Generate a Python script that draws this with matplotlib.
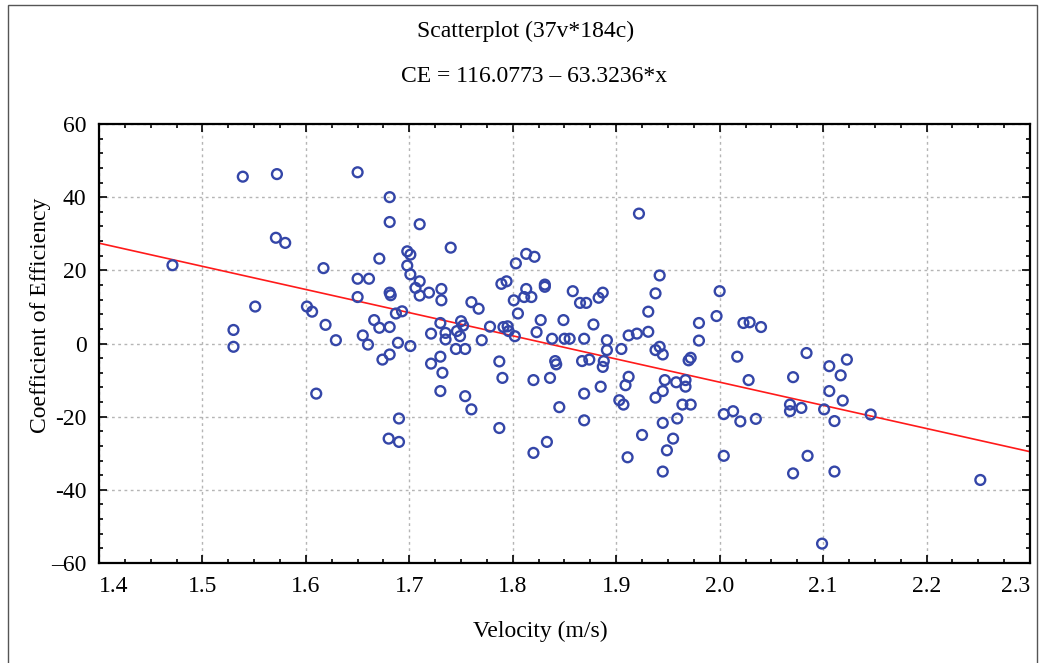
import matplotlib.pyplot as plt
from matplotlib.patches import Rectangle
from matplotlib.ticker import FixedLocator, MultipleLocator, FixedFormatter

# Velocity (m/s) of each case
velocity = [
    1.539, 1.572, 1.571, 1.580, 1.471, 1.617, 1.551, 1.601, 1.606, 1.619, 1.629, 1.530, 1.530,
    1.650, 1.681, 1.681, 1.710, 1.740, 1.671, 1.698, 1.701, 1.698, 1.701, 1.650, 1.661, 1.710,
    1.706, 1.710, 1.719, 1.731, 1.731, 1.650, 1.681, 1.682, 1.687, 1.693, 1.666, 1.671, 1.681,
    1.655, 1.660, 1.689, 1.701, 1.760, 1.767, 1.730, 1.721, 1.735, 1.735, 1.750, 1.746, 1.752,
    1.749, 1.770, 1.745, 1.754, 1.778, 1.791, 1.795, 1.796, 1.802, 1.789, 1.794, 1.803, 1.813,
    1.821, 1.801, 1.805, 1.813, 1.811, 1.818, 1.831, 1.831, 1.827, 1.823, 1.849, 1.838, 1.850,
    1.855, 1.858,
    1.922, 1.942, 1.938, 2.000, 1.931, 1.997, 1.865, 1.871, 1.883, 1.887, 1.878, 1.980, 2.023,
    2.029, 2.040, 1.869, 1.891, 1.912, 1.920, 1.931, 1.980, 1.905, 1.942,
    1.891, 1.945, 1.938, 1.972, 1.970, 2.017, 2.084, 1.867, 1.874, 1.888, 1.887, 1.912, 1.909,
    1.885, 1.869, 1.903, 1.907, 1.947, 1.945, 1.938, 1.958, 1.967, 1.967, 1.964, 1.972, 1.959,
    1.945, 1.869, 1.925, 1.955, 1.949, 1.911, 1.945, 2.028, 2.071, 2.004, 2.013, 2.020, 2.035,
    2.068, 2.068, 2.079, 2.004, 2.071, 2.085,
    2.106, 2.123, 2.117, 2.106, 2.119, 2.101, 2.111, 2.146, 2.111, 2.252, 2.099,
    1.610,
    1.674, 1.681, 1.721, 1.730, 1.732, 1.730, 1.754, 1.760, 1.787, 1.790, 1.787, 1.820, 1.836,
    1.841, 1.842, 1.845, 1.833, 1.820, 1.690, 1.680, 1.690,
]

# Coefficient of Efficiency of each case
efficiency = [
    45.6, 46.3, 28.9, 27.5, 21.4, 20.6, 10.1, 10.1, 8.7, 5.1, 0.9, 3.7, -0.9,
    46.8, 40.0, 33.2, 32.6, 26.2, 23.2, 25.2, 24.3, 21.3, 18.9, 17.7, 17.7, 17.0,
    15.2, 13.1, 13.9, 14.9, 11.8, 12.7, 13.9, 13.2, 8.2, 8.8, 6.4, 4.3, 4.5,
    2.2, -0.3, 0.2, -0.7, 11.3, 9.5, 5.6, 2.7, 2.9, 1.1, 6.1, 3.4, 4.9,
    2.0, 0.9, -1.5, -1.5, 4.6, 4.5, 4.7, 3.4, 2.0, 16.3, 17.0, 21.9, 24.5,
    23.7, 11.8, 8.2, 14.9, 12.7, 12.7, 16.1, 15.5, 6.4, 3.1, 6.4, 1.3, 1.3,
    1.3, 14.3,
    35.5, 18.6, 13.7, 14.3, 8.7, 7.5, 11.1, 11.1, 12.5, 13.9, 5.2, 5.6, 5.6,
    5.8, 4.5, 1.3, 0.9, 2.2, 2.7, 3.2, 0.8, -1.5, -0.9,
    -1.8, -3.0, -1.8, -3.9, -4.6, -3.6, -2.6, -4.8, -4.4, -4.8, -6.4, -9.1, -11.4,
    -11.8, -13.7, -15.5, -16.7, -10.0, -13.0, -14.8, -10.6, -10.0, -11.8, -16.7, -16.7, -20.5,
    -21.7, -21.0, -25.0, -26.0, -29.2, -31.1, -35.0, -10.0, -9.2, -19.3, -18.5, -21.3, -20.6,
    -16.7, -18.5, -17.6, -30.7, -35.5, -30.7,
    -6.2, -4.4, -8.7, -13.0, -15.6, -18.0, -21.2, -19.4, -35.0, -37.3, -54.7,
    -13.7,
    -4.4, -3.0, -5.5, -3.6, -8.0, -13.0, -14.4, -18.0, -4.9, -9.4, -23.1, -10.0, -9.4,
    -4.8, -5.7, -17.4, -26.9, -29.9, -20.5, -26.0, -26.9,
]

# Regression line CE = a + b*x
intercept = 116.0773
slope = -63.3236

x_ticks = [1.4, 1.5, 1.6, 1.7, 1.8, 1.9, 2.0, 2.1, 2.2, 2.3]
x_labels = ['1.4', '1.5', '1.6', '1.7', '1.8', '1.9', '2.0', '2.1', '2.2', '2.3']
y_ticks = [-60, -40, -20, 0, 20, 40, 60]
y_labels = ['\u201360', '-40', '-20', '0', '20', '40', '60']

plt.rcParams['font.family'] = ['Liberation Serif', 'DejaVu Serif']

fig = plt.figure(figsize=(10.39, 6.63), dpi=100)
ax = fig.add_axes([0.0953, 0.1508, 0.8960, 0.6622])

# Regression line across the whole axis
x_min, x_max = x_ticks[0], x_ticks[-1]
ax.plot([x_min, x_max], [intercept + slope * x_min, intercept + slope * x_max],
        color='#ff1a1a', linewidth=1.2, zorder=2)

# Points as open circles
ax.scatter(velocity, efficiency, s=50, facecolors='none', edgecolors='#3446a8',
           linewidths=1.7, zorder=3)

ax.set_xlim(x_min, x_max)
ax.set_ylim(y_ticks[0], y_ticks[-1])

ax.xaxis.set_major_locator(FixedLocator(x_ticks))
ax.xaxis.set_major_formatter(FixedFormatter(x_labels))
ax.xaxis.set_minor_locator(MultipleLocator(0.025))
ax.yaxis.set_major_locator(FixedLocator(y_ticks))
ax.yaxis.set_major_formatter(FixedFormatter(y_labels))
ax.yaxis.set_minor_locator(MultipleLocator(4))

ax.tick_params(which='both', direction='in', top=True, right=True, width=1.2,
               labelsize=17, colors='black')
ax.tick_params(which='major', length=6, pad=9)
ax.tick_params(which='minor', length=3)

# first and last x labels sit inside the axis ends, as in the original export
xt = ax.get_xticklabels()
xt[0].set_horizontalalignment('left')
xt[-1].set_horizontalalignment('right')

# Dotted grid
ax.grid(True, which='major', linestyle=(0, (2, 2.5)), color='#b5b5b5', linewidth=1.0)
ax.set_axisbelow(True)

for sp in ax.spines.values():
    sp.set_linewidth(1.6)

ax.set_xlabel('Velocity (m/s)', fontsize=17)
ax.xaxis.set_label_coords(0.474, -0.132)
ax.set_ylabel('Coefficient of Efficiency', fontsize=17)
ax.yaxis.set_label_coords(-0.052, 0.565)

# Titles
fig.text(0.506, 0.952, 'Scatterplot (37v*184c)', fontsize=17, ha='center', va='center')
fig.text(0.514, 0.884, 'CE = 116.0773 \u2013 63.3236*x', fontsize=17, ha='center', va='center')

# Thin frame around the whole figure
fig.add_artist(Rectangle((0.008, -0.01), 0.99, 1.002, transform=fig.transFigure,
                         fill=False, edgecolor='#555555', linewidth=1.0))

plt.savefig('out.png', dpi=100)
